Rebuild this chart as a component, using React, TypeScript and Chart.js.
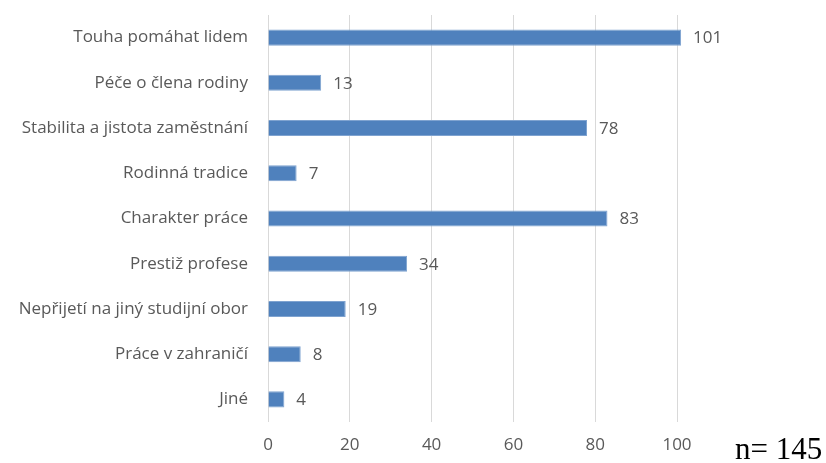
import React, { useEffect, useRef } from "react";
import { Chart, registerables } from "chart.js";

Chart.register(...registerables);

const categories = [
  "Touha pomáhat lidem",
  "Péče o člena rodiny",
  "Stabilita a jistota zaměstnání",
  "Rodinná tradice",
  "Charakter práce",
  "Prestiž profese",
  "Nepřijetí na jiný studijní obor",
  "Práce v zahraničí",
  "Jiné",
];
const values = [101, 13, 78, 7, 83, 34, 19, 8, 4];
const xTicks = [0, 20, 40, 60, 80, 100];
const noteText = "n= 145";

const FONT = "'Open Sans', sans-serif";
const GRAY = "#595959";

const valueLabels = {
  id: "valueLabels",
  afterDatasetsDraw(chart: any) {
    const ctx = chart.ctx;
    const meta = chart.getDatasetMeta(0);
    ctx.save();
    ctx.font = `17px ${FONT}`;
    ctx.fillStyle = GRAY;
    ctx.textAlign = "left";
    ctx.textBaseline = "middle";
    meta.data.forEach((bar: any, i: number) => {
      ctx.fillText(String(values[i]), bar.x + 12, bar.y + 1);
    });
    ctx.restore();
  },
};

export default function App() {
  const ref = useRef<HTMLCanvasElement>(null);
  useEffect(() => {
    if (!ref.current) return;
    const chart = new Chart(ref.current, {
      type: "bar",
      data: {
        labels: categories,
        datasets: [
          {
            data: values,
            backgroundColor: "#4F81BD",
            borderColor: "#7FA3D0",
            borderWidth: 1,
            barPercentage: 0.355,
            categoryPercentage: 1,
            clip: false as any,
          },
        ],
      },
      options: {
        indexAxis: "y",
        animation: false,
        responsive: false,
        maintainAspectRatio: false,
        layout: { padding: { top: 15, right: 149, left: 0, bottom: 0 } },
        plugins: { legend: { display: false }, tooltip: { enabled: false } },
        scales: {
          x: {
            min: 0,
            max: 100,
            afterBuildTicks: (scale: any) => {
              scale.ticks = xTicks.map((v) => ({ value: v }));
            },
            afterFit: (scale: any) => {
              scale.height = 41;
              scale.paddingLeft = 0;
              scale.paddingRight = 0;
            },
            grid: { color: "#D9D9D9", lineWidth: 1, drawTicks: false },
            border: { display: false },
            ticks: {
              color: GRAY,
              font: { family: FONT, size: 17 },
              padding: 13,
            },
          },
          y: {
            afterFit: (scale: any) => {
              scale.width = 268;
              scale.paddingTop = 0;
              scale.paddingBottom = 0;
            },
            grid: { display: false, drawTicks: false },
            border: { display: false },
            ticks: {
              color: GRAY,
              font: { family: FONT, size: 17 },
              padding: 20,
            },
          },
        },
      },
      plugins: [valueLabels],
    });
    return () => chart.destroy();
  }, []);
  return (
    <div style={{ position: "fixed", left: 0, top: 0, width: 826, height: 463, background: "#fff" }}>
      <canvas ref={ref} width={826} height={463} style={{ display: "block" }} />
      <div
        style={{
          position: "absolute",
          left: 735,
          top: 431,
          fontFamily: "'Liberation Serif', 'Times New Roman', serif",
          fontSize: 31,
          lineHeight: "36px",
          color: "#000",
          whiteSpace: "nowrap",
        }}
      >
        {noteText}
      </div>
    </div>
  );
}
